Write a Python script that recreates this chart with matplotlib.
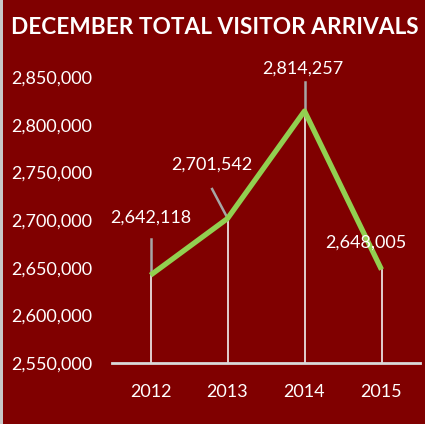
import matplotlib
matplotlib.use("Agg")
import matplotlib.pyplot as plt
from matplotlib.ticker import FuncFormatter
from matplotlib.patches import Rectangle

years = ['2012', '2013', '2014', '2015']
arrivals = [2642118, 2701542, 2814257, 2648005]
label_text = ['2,642,118', '2,701,542', '2,814,257', '2,648,005']
yticks = [2550000, 2600000, 2650000, 2700000, 2750000, 2800000, 2850000]

bg = '#800000'
green = '#92D050'

plt.rcParams['font.family'] = ['Lato', 'DejaVu Sans']

fig = plt.figure(figsize=(4.25, 4.24), dpi=100, facecolor=bg)
# light strip on the left edge, like the screenshot border
fig.patches.append(Rectangle((0, 0), 3 / 425, 1, transform=fig.transFigure,
                             facecolor='#C8C8C8', edgecolor='none'))
ax = fig.add_axes([112 / 425, 1 - 363 / 424, 308 / 425, 286 / 424])
ax.set_facecolor(bg)

x = list(range(len(years)))
ax.set_xlim(-0.5, 3.5)
ax.set_ylim(2550000, 2850000)

# drop lines
for xi, v in zip(x, arrivals):
    ax.plot([xi, xi], [2550000, v], color='#F2F2F2', lw=1.2, zorder=2)

ax.plot(x, arrivals, color=green, lw=3.8, solid_capstyle='butt', zorder=3)

# data labels with leader lines
offsets = [(0.0, 2702000), (-0.2, 2758500), (-0.02, 2859000), (-0.2, 2676000)]
leaders = [((0.0, 2680000), (0.0, 2643000)),
           ((-0.2, 2732500), (0.0, 2702000)),
           ((0.0, 2845000), (0.0, 2815000)),
           None]
for xi, txt, (dx, ty), ld in zip(x, label_text, offsets, leaders):
    ax.text(xi + dx, ty, txt, color='white', fontsize=13, ha='center', va='center',
            zorder=4, clip_on=False)
    if ld is not None:
        (x0, y0), (x1, y1) = ld
        ax.plot([xi + x0, xi + x1], [y0, y1], color='#A6A6A6', lw=1.8, zorder=2)

ax.set_xticks(x)
ax.set_xticklabels(years)
ax.set_yticks(yticks)
ax.yaxis.set_major_formatter(FuncFormatter(lambda v, p: '{:,.0f}'.format(v)))
ax.tick_params(axis='both', colors='white', labelsize=13, length=0)
ax.tick_params(axis='y', pad=14)
ax.tick_params(axis='x', pad=15)

for s in ['top', 'right', 'left']:
    ax.spines[s].set_visible(False)
ax.spines['bottom'].set_color('#D9D9D9')
ax.spines['bottom'].set_linewidth(2)

fig.text(0.505, 1 - 28 / 424, 'DECEMBER TOTAL VISITOR ARRIVALS', color='white',
         fontsize=16.3, fontweight='bold', ha='center', va='center')

fig.savefig('out.png', dpi=100, facecolor=bg)
